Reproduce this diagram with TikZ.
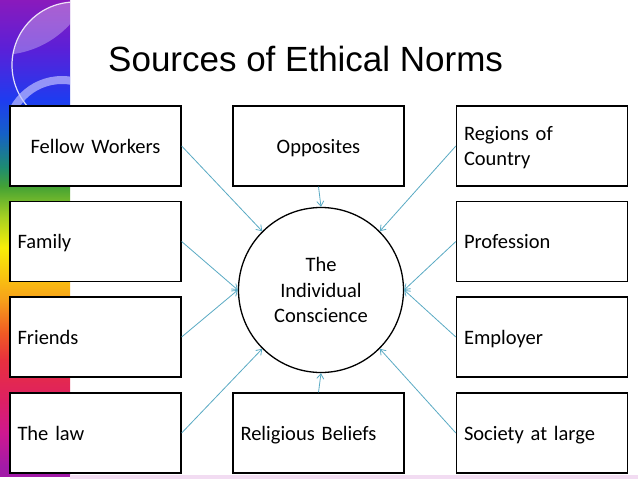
\documentclass[tikz,border=0pt]{standalone}
\usepackage{fontspec}
\setmainfont{Carlito}
\newfontfamily\titlefont{Liberation Sans}
\usetikzlibrary{arrows.meta}
\definecolor{arrowc}{HTML}{5AAAC4}
\definecolor{stripc}{HTML}{F2DCF2}
\definecolor{rbA}{HTML}{A21AA8}
\definecolor{rbB}{HTML}{CE1890}
\definecolor{rbC}{HTML}{DE2062}
\definecolor{rbD}{HTML}{E8303E}
\definecolor{rbE}{HTML}{F05A24}
\definecolor{rbF}{HTML}{F7A01A}
\definecolor{rbG}{HTML}{F8C210}
\definecolor{rbH}{HTML}{F8EE08}
\definecolor{rbI}{HTML}{A6D022}
\definecolor{rbJ}{HTML}{44A234}
\definecolor{rbK}{HTML}{1E8C70}
\definecolor{rbL}{HTML}{1560C8}
\definecolor{rbM}{HTML}{1E3CF0}
\definecolor{rbN}{HTML}{5A20D8}
\definecolor{rbO}{HTML}{8A1ABC}
\pgfdeclareverticalshading{rainbowbar}{100bp}{%
 color(0bp)=(rbA);
 color(26bp)=(rbA);
 color(29.5bp)=(rbB);
 color(33bp)=(rbC);
 color(37.2bp)=(rbD);
 color(40bp)=(rbE);
 color(43.5bp)=(rbF);
 color(45.9bp)=(rbG);
 color(49bp)=(rbH);
 color(52.2bp)=(rbI);
 color(55.4bp)=(rbJ);
 color(57.4bp)=(rbK);
 color(61bp)=(rbL);
 color(64.5bp)=(rbM);
 color(69.8bp)=(rbN);
 color(75bp)=(rbO);
 color(100bp)=(rbO)}
\tikzset{
  srcbox/.style={draw=black, line width=1.3pt, fill=white, minimum height=80pt,
    text width=156pt, inner xsep=7.5pt, inner ysep=0pt, align=left, text depth=0pt,
    font=\fontsize{20.5}{25}\selectfont},
  ctrbox/.style={srcbox, align=center},
  twoline/.style={text height=15pt, text depth=27pt},
  conscience/.style={draw=black, line width=1.3pt, fill=white, circle, minimum size=165pt,
    inner sep=0pt, align=center, font=\fontsize{20.5}{25.5}\selectfont},
  feed/.style={draw=arrowc, line width=0.8pt, -{Straight Barb[length=5pt,width=7pt]}},
  titletext/.style={font=\titlefont\fontsize{35}{40}\selectfont, anchor=base west, inner sep=0pt}
}
\begin{document}
\begin{tikzpicture}[x=1pt,y=-1pt]
\useasboundingbox (0,0) rectangle (638,479);
\fill[white] (0,0) rectangle (638,479);
% decorative side bar
\shade[shading=rainbowbar] (0,0) rectangle (70,476);
\begin{scope}
  \clip (0,0) rectangle (70,106);
  \begin{scope}
    \clip (75,65) circle (63);
    \fill[white, opacity=0.3] (0,-40) circle (95);
  \end{scope}
  \draw[white, opacity=0.85, line width=1.2pt] (75,65) circle (63);
  \draw[white!75!blue, opacity=0.7, line width=8pt] (62,135) circle (55);
\end{scope}
\fill[stripc] (70,475) rectangle (638,479);
% title
\node[titletext] (title) at (108,71) {Sources of Ethical Norms};
% centre
\node[conscience] (c) at (321,290) {The\\Individual\\Conscience};
% left column
\node[ctrbox] (fw)  at (95.5,146) {Fellow Workers};
\node[srcbox] (fam) at (95.5,241.5) {Family};
\node[srcbox] (fr)  at (95.5,337) {Friends};
\node[srcbox] (law) at (95.5,433) {The law};
% middle column
\node[ctrbox] (opp) at (318.5,146) {Opposites};
\node[srcbox] (rel) at (318.5,433) {Religious Beliefs};
% right column
\node[srcbox, twoline] (reg)  at (542,146) {Regions of\\Country};
\node[srcbox] (prof) at (542,241.5) {Profession};
\node[srcbox] (emp)  at (542,337) {Employer};
\node[srcbox] (soc)  at (542,433) {Society at large};
% connectors
\draw[feed] (fw.east) -- (c.135);
\draw[feed] (opp.south) -- (c.north);
\draw[feed] (reg.west) -- (c.45);
\draw[feed] (fam.east) -- (c.west);
\draw[feed] (fr.east) -- (c.west);
\draw[feed] (prof.west) -- (c.east);
\draw[feed] (emp.west) -- (c.east);
\draw[feed] (law.east) -- (c.225);
\draw[feed] (rel.north) -- (c.south);
\draw[feed] (soc.west) -- (c.-45);
\end{tikzpicture}
\end{document}
